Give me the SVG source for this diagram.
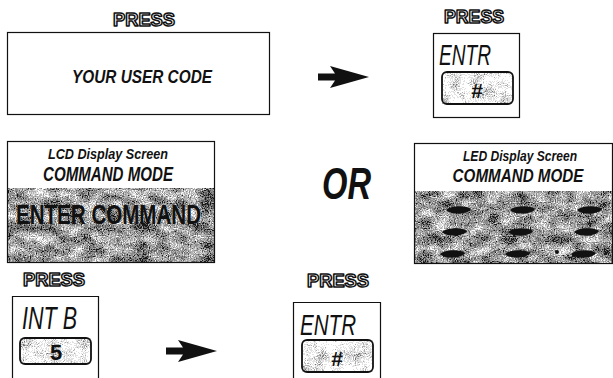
<svg xmlns="http://www.w3.org/2000/svg" width="613" height="378" viewBox="0 0 613 378">
  <style>
    .frame { fill: none; stroke: #111; stroke-width: 1.2; }
    .press { font-family: "Liberation Sans", Arial, sans-serif; font-weight: bold; font-size: 18px; fill: #fff; stroke: #111; stroke-width: 1.5; stroke-linejoin: round; text-anchor: middle; }
    .bi { font-family: "Liberation Sans", Arial, sans-serif; font-weight: bold; font-style: italic; fill: #111; }
    .keycap { font-family: "Liberation Sans", Arial, sans-serif; font-style: italic; font-weight: normal; fill: #111; }
    .keysym { font-family: "Liberation Sans", Arial, sans-serif; font-weight: bold; fill: #111; text-anchor: middle; }
    .key { stroke: #111; stroke-width: 1.8; }
    .seg { fill: #111; }
    .arrow { fill: #111; }
  </style>
  <defs>
    <!-- mottled halftone used for the display windows -->
    <filter id="grainDark" x="0" y="0" width="1" height="1" color-interpolation-filters="sRGB">
      <feTurbulence type="fractalNoise" baseFrequency="0.85" numOctaves="1" seed="4" result="f0"/>
      <feColorMatrix in="f0" type="matrix" values="1 0 0 0 0  1 0 0 0 0  1 0 0 0 0  0 0 0 0 1" result="fine"/>
      <feTurbulence type="fractalNoise" baseFrequency="0.06 0.09" numOctaves="3" seed="11" result="c0"/>
      <feColorMatrix in="c0" type="matrix" values="1 0 0 0 0  1 0 0 0 0  1 0 0 0 0  0 0 0 0 1" result="coarse"/>
      <feComposite in="fine" in2="coarse" operator="arithmetic" k2="1.4" k3="1" k4="-0.72"/>
      <feComponentTransfer>
        <feFuncR type="discrete" tableValues="0.1 0.38 0.55 0.7 0.86 1"/>
        <feFuncG type="discrete" tableValues="0.1 0.38 0.55 0.7 0.86 1"/>
        <feFuncB type="discrete" tableValues="0.1 0.38 0.55 0.7 0.86 1"/>
        <feFuncA type="linear" slope="0" intercept="1"/>
      </feComponentTransfer>
    </filter>
    <!-- light speckle used for the key faces -->
    <filter id="grainLight" x="0" y="0" width="1" height="1" color-interpolation-filters="sRGB">
      <feTurbulence type="fractalNoise" baseFrequency="0.9" numOctaves="1" seed="8" result="f0"/>
      <feColorMatrix in="f0" type="matrix" values="1 0 0 0 0  1 0 0 0 0  1 0 0 0 0  0 0 0 0 1" result="fine"/>
      <feTurbulence type="fractalNoise" baseFrequency="0.08" numOctaves="2" seed="3" result="c0"/>
      <feColorMatrix in="c0" type="matrix" values="1 0 0 0 0  1 0 0 0 0  1 0 0 0 0  0 0 0 0 1" result="coarse"/>
      <feComposite in="fine" in2="coarse" operator="arithmetic" k2="1.3" k3="1" k4="-0.55"/>
      <feComponentTransfer>
        <feFuncR type="discrete" tableValues="0.45 0.68 0.88 1 1"/>
        <feFuncG type="discrete" tableValues="0.45 0.68 0.88 1 1"/>
        <feFuncB type="discrete" tableValues="0.45 0.68 0.88 1 1"/>
        <feFuncA type="linear" slope="0" intercept="1"/>
      </feComponentTransfer>
    </filter>
    <path id="arrowShape" d="M0,-3.6 L17,-3.6 L12,-11 L51,0 L12,11 L17,3.6 L0,3.6 Z"/>
    <path id="segShape" d="M-12,0 C-8,-5 10,-5 13,-0.8 C9,5 -8,5 -12,0 Z"/>
  </defs>

  <rect width="613" height="378" fill="#fff"/>

  <!-- step 1: enter user code -->
  <g id="press-code">
    <text class="press" x="144" y="26" textLength="62" lengthAdjust="spacingAndGlyphs">PRESS</text>
    <rect class="frame" x="7.5" y="32.5" width="262" height="82"/>
    <text class="bi" x="72" y="83" font-size="19" textLength="140" lengthAdjust="spacingAndGlyphs">YOUR USER CODE</text>
  </g>

  <!-- step 2: ENTR key -->
  <g id="press-entr-1">
    <text class="press" x="474" y="23" textLength="60" lengthAdjust="spacingAndGlyphs">PRESS</text>
    <rect class="frame" x="433.5" y="33.5" width="86" height="84"/>
    <text class="keycap" x="439" y="65" font-size="30" textLength="52" lengthAdjust="spacingAndGlyphs">ENTR</text>
    <rect class="key" x="442" y="72" width="71" height="32" rx="5" fill="#fff" filter="url(#grainLight)"/>
    <rect class="key" x="442" y="72" width="71" height="32" rx="5" fill="none"/>
    <text class="keysym" x="477" y="98" font-size="21">#</text>
  </g>

  <!-- LCD display -->
  <g id="lcd-display">
    <rect x="7.5" y="188" width="207" height="75" fill="#888" filter="url(#grainDark)"/>
    <rect class="frame" x="7.5" y="141.5" width="207" height="121"/>
    <text class="bi" x="108" y="159" font-size="14" text-anchor="middle" textLength="120" lengthAdjust="spacingAndGlyphs">LCD Display Screen</text>
    <text class="bi" x="108" y="181" font-size="19.5" text-anchor="middle" textLength="130" lengthAdjust="spacingAndGlyphs">COMMAND MODE</text>
    <text x="16" y="224" font-family="'Liberation Sans', Arial, sans-serif" font-weight="bold" font-size="28" fill="#111" textLength="185" lengthAdjust="spacingAndGlyphs">ENTER COMMAND</text>
  </g>

  <g id="or-label">
    <text class="bi" x="322" y="199" font-size="44" textLength="49" lengthAdjust="spacingAndGlyphs">OR</text>
  </g>

  <!-- LED display -->
  <g id="led-display">
    <rect x="414.5" y="191" width="198" height="73" fill="#888" filter="url(#grainDark)"/>
    <rect class="frame" x="414.5" y="143.5" width="198" height="120"/>
    <text class="bi" x="520" y="161" font-size="14" text-anchor="middle" textLength="114" lengthAdjust="spacingAndGlyphs">LED Display Screen</text>
    <text class="bi" transform="translate(518,182) scale(0.8,1)" x="0" y="0" font-size="19" text-anchor="middle">COMMAND MODE</text>
    <g class="seg">
      <use href="#segShape" x="458" y="210"/>
      <use href="#segShape" x="522" y="210"/>
      <use href="#segShape" x="589" y="210"/>
      <use href="#segShape" x="454" y="232"/>
      <use href="#segShape" x="520" y="232"/>
      <use href="#segShape" x="586" y="232"/>
      <use href="#segShape" x="452" y="254"/>
      <use href="#segShape" x="517" y="254"/>
      <use href="#segShape" x="583" y="254"/>
      <circle cx="557" cy="252" r="2"/>
    </g>
  </g>

  <!-- step 3: INT B key -->
  <g id="press-intb">
    <text class="press" x="54" y="286" textLength="62" lengthAdjust="spacingAndGlyphs">PRESS</text>
    <path class="frame" d="M12.5,378 V296.5 H98.5 V378"/>
    <text class="keycap" x="22" y="329" font-size="31" textLength="55" lengthAdjust="spacingAndGlyphs">INT B</text>
    <rect class="key" x="20" y="338" width="71" height="26" rx="5" fill="#fff" filter="url(#grainLight)"/>
    <rect class="key" x="20" y="338" width="71" height="26" rx="5" fill="none"/>
    <text class="keysym" x="56" y="360" font-size="22">5</text>
  </g>

  <!-- step 4: ENTR key -->
  <g id="press-entr-2">
    <text class="press" x="338" y="287" textLength="62" lengthAdjust="spacingAndGlyphs">PRESS</text>
    <path class="frame" d="M293.5,378 V302.5 H380.5 V378"/>
    <text class="keycap" x="300" y="335" font-size="30" textLength="56" lengthAdjust="spacingAndGlyphs">ENTR</text>
    <rect class="key" x="302" y="340" width="71" height="32" rx="5" fill="#fff" filter="url(#grainLight)"/>
    <rect class="key" x="302" y="340" width="71" height="32" rx="5" fill="none"/>
    <text class="keysym" x="337" y="366" font-size="21">#</text>
  </g>

  <!-- flow arrows -->
  <g id="connectors" class="arrow">
    <use href="#arrowShape" x="318" y="77"/>
    <use href="#arrowShape" x="166" y="351"/>
  </g>
</svg>
